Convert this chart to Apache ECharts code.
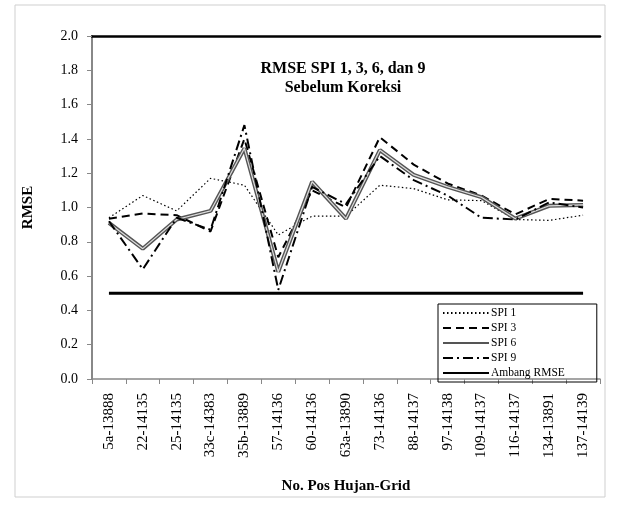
<!DOCTYPE html>
<html><head><meta charset="utf-8">
<script src="https://cdn.jsdelivr.net/npm/echarts@6/dist/echarts.min.js"></script>
<style>html,body{margin:0;padding:0;background:#fff}#c{width:622px;height:512px}</style>
</head><body><div id="c"></div>
<script>
const categories = ["5a-13888","22-14135","25-14135","33c-14383","35b-13889","57-14136","60-14136","63a-13890","73-14136","88-14137","97-14138","109-14137","116-14137","134-13891","137-14139"];
const spi1 = [0.94, 1.07, 0.98, 1.17, 1.13, 0.84, 0.95, 0.95, 1.13, 1.11, 1.045, 1.04, 0.93, 0.925, 0.955];
const spi3 = [0.935, 0.965, 0.955, 0.86, 1.40, 0.71, 1.10, 1.00, 1.41, 1.25, 1.14, 1.07, 0.96, 1.05, 1.04];
const spi6 = [0.91, 0.76, 0.93, 0.98, 1.345, 0.625, 1.15, 0.935, 1.335, 1.19, 1.12, 1.06, 0.935, 1.01, 1.015];
const spi9 = [0.92, 0.64, 0.94, 0.87, 1.48, 0.52, 1.12, 1.02, 1.30, 1.16, 1.07, 0.94, 0.93, 1.03, 1.0];
const ambang = [0.5, 0.5, 0.5, 0.5, 0.5, 0.5, 0.5, 0.5, 0.5, 0.5, 0.5, 0.5, 0.5, 0.5, 0.5];
const yTicks = {min: 0, max: 2, step: 0.2};

const serif = "Liberation Serif";
const chart = echarts.init(document.getElementById('c'));
chart.setOption({
  animation: false,
  backgroundColor: '#fff',
  title: {
    text: 'RMSE SPI 1, 3, 6, dan 9\nSebelum Koreksi',
    left: 338, top: 54, textAlign: 'center',
    textStyle: {fontFamily: serif, fontSize: 16, fontWeight: 'bold', color: '#000', lineHeight: 19}
  },
  graphic: [
    {type: 'rect', shape: {x: 15, y: 5, width: 590, height: 492}, style: {fill: 'none', stroke: '#cfcfcf', lineWidth: 1}, silent: true}
  ],
  legend: {
    orient: 'vertical', left: 438, top: 304,
    data: ['SPI 1', 'SPI 3', 'SPI 6', 'SPI 9', 'Ambang RMSE'],
    itemWidth: 46, itemHeight: 10, itemGap: 3,
    padding: [3, 32, 3, 4],
    borderColor: '#000', borderWidth: 1,
    itemStyle: {opacity: 0},
    textStyle: {fontFamily: serif, fontSize: 11.5, lineHeight: 11, color: '#000', padding: [0, 0, 0, -3]}
  },
  grid: {left: 92, right: 22, top: 36, bottom: 133},
  xAxis: [{
    type: 'category', data: categories, boundaryGap: true,
    name: 'No. Pos Hujan-Grid', nameLocation: 'middle', nameGap: 100,
    nameTextStyle: {fontFamily: serif, fontSize: 15, fontWeight: 'bold', color: '#000'},
    axisLine: {lineStyle: {color: '#888', width: 1.5}},
    axisTick: {show: true, alignWithLabel: false, length: 5, lineStyle: {color: '#888'}},
    axisLabel: {rotate: 90, interval: 0, fontFamily: serif, fontSize: 15, color: '#000', margin: 14}
  }, {
    type: 'category', data: categories, position: 'top',
    axisLine: {lineStyle: {color: '#000', width: 2.5}},
    axisTick: {show: false}, axisLabel: {show: false}
  }],
  yAxis: {
    type: 'value', min: yTicks.min, max: yTicks.max, interval: yTicks.step,
    name: 'RMSE', nameLocation: 'middle', nameGap: 56, nameRotate: 90,
    nameTextStyle: {fontFamily: serif, fontSize: 15, fontWeight: 'bold', color: '#000'},
    axisLine: {show: true, lineStyle: {color: '#888', width: 2}},
    axisTick: {show: true, length: 5, lineStyle: {color: '#888'}},
    splitLine: {show: false},
    axisLabel: {fontFamily: serif, fontSize: 14, color: '#000', margin: 14, formatter: v => v.toFixed(1)}
  },
  series: [
    {name: 'SPI 1', type: 'line', data: spi1, symbol: 'none', lineStyle: {color: '#000', width: 1.2, type: [1.5, 2.5]}, itemStyle: {color: '#000'}},
    {name: 'SPI 3', type: 'line', data: spi3, symbol: 'none', lineStyle: {color: '#000', width: 2, type: [8, 5]}, itemStyle: {color: '#000'}},
    {name: 'SPI 6', type: 'line', data: spi6, symbol: 'none', lineStyle: {color: '#555', width: 4}, itemStyle: {color: '#555'}},
    {name: 'SPI 6 inner', type: 'line', data: spi6, symbol: 'none', lineStyle: {color: '#ddd', width: 1.2}, itemStyle: {color: '#ddd'}},
    {name: 'SPI 9', type: 'line', data: spi9, symbol: 'none', lineStyle: {color: '#000', width: 2, type: [10, 4, 2, 4]}, itemStyle: {color: '#000'}},
    {name: 'Ambang RMSE', type: 'line', data: ambang, symbol: 'none', lineStyle: {color: '#000', width: 3}, itemStyle: {color: '#000'}}
  ]
});
</script></body></html>
